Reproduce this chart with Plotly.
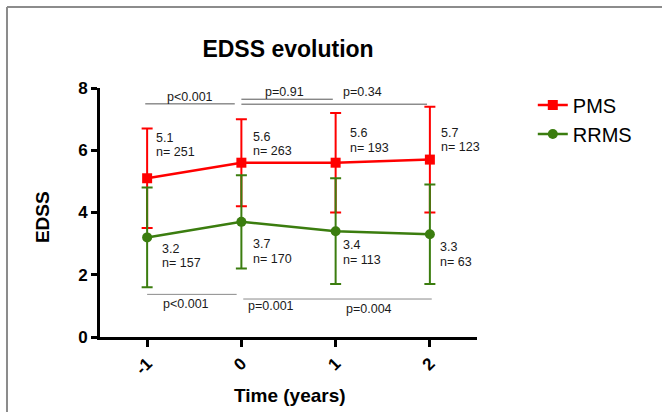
import plotly.graph_objects as go

# ---- data ----
years = [-1, 0, 1, 2]
tick_labels = ["-1", "0", "1", "2"]
pms_mean = [5.1, 5.6, 5.6, 5.7]
pms_sd = [1.6, 1.4, 1.6, 1.7]
pms_n = [251, 263, 193, 123]
rrms_mean = [3.2, 3.7, 3.4, 3.3]
rrms_sd = [1.6, 1.5, 1.7, 1.6]
rrms_n = [157, 170, 113, 63]
p_top = ["p<0.001", "p=0.91", "p=0.34"]
p_bottom = ["p<0.001", "p=0.001", "p=0.004"]

# ---- styling / layout helpers ----
RED = "#FF0000"
GREEN = "#3B7D0F"
FONT = "Liberation Sans, Arial, sans-serif"
TXT = "#1a1a1a"

# label offsets (data units) relative to each point
pms_lbl_dx = [0.074, 0.106, 0.128, 0.096]
pms_lbl_y = [6.17, 6.20, 6.31, 6.33]
rrms_lbl_dx = [0.138, 0.106, 0.053, 0.085]
rrms_lbl_y = [2.60, 2.75, 2.71, 2.65]
HALF_LINE = 0.23  # half line spacing in data units

# bracket geometry
top_lines = [(-1.02, -0.07, 7.49), (0.0, 0.97, 7.64), (0.0, 1.97, 7.48)]
top_text_pos = [(-0.54, 7.72), (0.457, 7.88), (1.287, 7.88)]
bot_lines = [(-1.0, -0.05, 1.37), (0.02, 2.02, 1.22)]
bot_text_pos = [(-0.585, 1.05), (0.319, 1.0), (1.35, 0.91)]

fig = go.Figure()
fig.add_trace(go.Scatter(
    x=years, y=pms_mean, name="PMS", mode="lines+markers",
    line=dict(color=RED, width=2.5),
    marker=dict(symbol="square", size=10, color=RED),
    error_y=dict(type="data", array=pms_sd, visible=True, color=RED,
                 thickness=2, width=5.5),
))
fig.add_trace(go.Scatter(
    x=years, y=rrms_mean, name="RRMS", mode="lines+markers",
    line=dict(color=GREEN, width=2.5),
    marker=dict(symbol="circle", size=10, color=GREEN),
    error_y=dict(type="data", array=rrms_sd, visible=True, color=GREEN,
                 thickness=2, width=5.5),
))

ann = []


def label(x, y, t):
    return dict(x=x, y=y, xref="x", yref="y", text=t, showarrow=False,
                xanchor="left", yanchor="middle", align="left",
                font=dict(family=FONT, size=12.5, color=TXT))


for i, x in enumerate(years):
    ann.append(label(x + pms_lbl_dx[i], pms_lbl_y[i] + HALF_LINE, f"{pms_mean[i]}"))
    ann.append(label(x + pms_lbl_dx[i], pms_lbl_y[i] - HALF_LINE, f"n= {pms_n[i]}"))
    ann.append(label(x + rrms_lbl_dx[i], rrms_lbl_y[i] + HALF_LINE, f"{rrms_mean[i]}"))
    ann.append(label(x + rrms_lbl_dx[i], rrms_lbl_y[i] - HALF_LINE, f"n= {rrms_n[i]}"))
for t, (tx, ty) in zip(p_top, top_text_pos):
    ann.append(dict(x=tx, y=ty, xref="x", yref="y", text=t, showarrow=False,
                    xanchor="center", yanchor="middle",
                    font=dict(family=FONT, size=12.5, color=TXT)))
for t, (tx, ty) in zip(p_bottom, bot_text_pos):
    ann.append(dict(x=tx, y=ty, xref="x", yref="y", text=t, showarrow=False,
                    xanchor="center", yanchor="middle",
                    font=dict(family=FONT, size=12.5, color=TXT)))

# axis titles
ann.append(dict(x=-0.151, y=0.482, xref="paper", yref="paper", text="<b>EDSS</b>",
                textangle=-90, showarrow=False, xanchor="center", yanchor="middle",
                font=dict(family=FONT, size=19, color="black")))
ann.append(dict(x=0.504, y=-0.233, xref="paper", yref="paper", text="<b>Time (years)</b>",
                showarrow=False, xanchor="center", yanchor="middle",
                font=dict(family=FONT, size=19, color="black")))

shapes = []
for x0, x1, y in top_lines:
    shapes.append(dict(type="line", xref="x", yref="y", x0=x0, x1=x1, y0=y, y1=y,
                       line=dict(color="#555555", width=1)))
for x0, x1, y in bot_lines:
    shapes.append(dict(type="line", xref="x", yref="y", x0=x0, x1=x1, y0=y, y1=y,
                       line=dict(color="#8a8a8a", width=1)))
# frame (top and left edges of the figure)
shapes.append(dict(type="line", xref="paper", yref="paper", x0=-0.2467, x1=1.6,
                   y0=1.3253, y1=1.3253, line=dict(color="#8c8c8c", width=2)))
shapes.append(dict(type="line", xref="paper", yref="paper", x0=-0.2467, x1=-0.2467,
                   y0=1.3253, y1=-0.4, line=dict(color="#8c8c8c", width=2)))

fig.update_layout(
    width=662, height=412,
    margin=dict(l=100, r=185, t=88, b=75, autoexpand=False),
    paper_bgcolor="white", plot_bgcolor="white",
    title=dict(text="<b>EDSS evolution</b>", x=288 / 662, xref="container",
               xanchor="center", y=1 - 49 / 412, yref="container", yanchor="middle",
               font=dict(family=FONT, size=23, color="black")),
    xaxis=dict(range=[-1.5, 2.5], tickvals=years, ticktext=tick_labels,
               tickangle=-45, showgrid=False, zeroline=False,
               showline=True, linecolor="black", linewidth=3,
               ticks="outside", ticklen=7, tickwidth=3, tickcolor="black",
               tickfont=dict(family=FONT, size=17, color="black", weight="bold")),
    yaxis=dict(range=[0, 8], tickvals=[0, 2, 4, 6, 8], showgrid=False, zeroline=False,
               showline=True, linecolor="black", linewidth=3,
               ticks="outside", ticklen=6, tickwidth=3, tickcolor="black",
               tickfont=dict(family=FONT, size=17, color="black", weight="bold")),
    legend=dict(x=1.148, y=1.01, xanchor="left", yanchor="top",
                font=dict(family=FONT, size=20, color="black"),
                itemwidth=30, bgcolor="rgba(0,0,0,0)"),
    annotations=ann, shapes=shapes,
)

fig.write_html("out.html", config={"displayModeBar": False},
               post_script="document.body.style.margin='0';document.body.style.overflow='hidden';")
